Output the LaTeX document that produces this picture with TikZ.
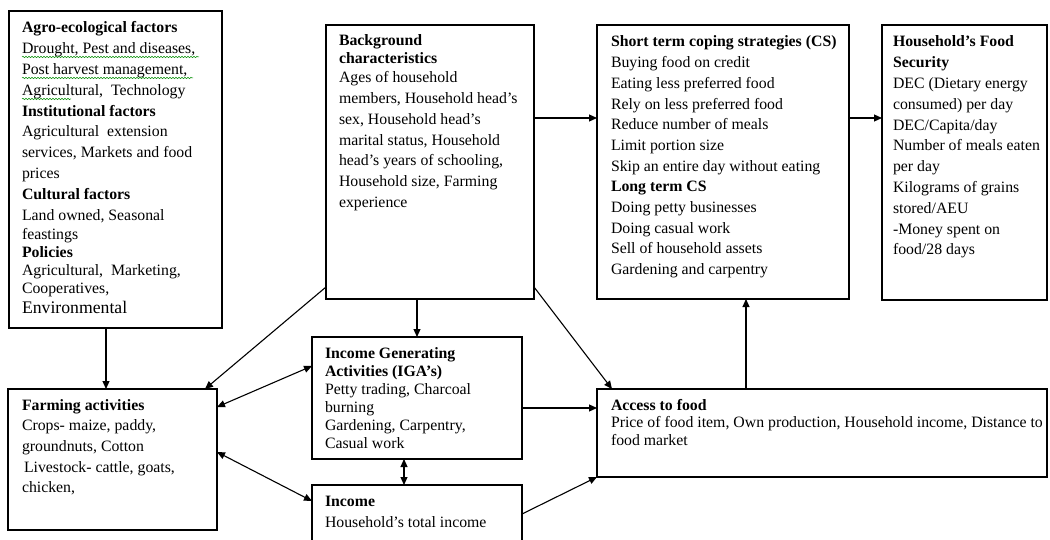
\documentclass[tikz,border=0pt]{standalone}
\usepackage{fontspec}
\setmainfont{Liberation Serif}
\usetikzlibrary{arrows.meta,decorations.pathmorphing}
\newcommand\txtblock[3]{\parbox[t]{#1}{\raggedright\fontsize{15.8}{#2}\selectfont #3}}
\tikzset{
  box/.style={draw=black, line width=1.7pt, anchor=north west, inner sep=0pt, outer sep=0pt},
  txt/.style={anchor=base west, inner sep=0pt, outer sep=0pt},
  arr/.style={line width=1.1pt, -{Triangle[length=8pt,width=7pt]}},
  darr/.style={line width=1.1pt, {Triangle[length=8pt,width=7pt]}-{Triangle[length=8pt,width=7pt]}},
  squig/.style={draw=green!55!black, line width=0.5pt, decorate, decoration={snake, amplitude=0.7pt, segment length=3pt}}
}
\begin{document}
\begin{tikzpicture}[x=1pt,y=-1pt]
\useasboundingbox (0,0) rectangle (1050,540);
% boxes
\node[box, minimum width=213pt, minimum height=317pt] (agro) at (9,11) {};
\node[box, minimum width=208pt, minimum height=274pt] (bg) at (326,25) {};
\node[box, minimum width=252pt, minimum height=274pt] (cs) at (597,25) {};
\node[box, minimum width=165pt, minimum height=275pt] (fs) at (882,25) {};
\node[box, minimum width=209pt, minimum height=141pt] (farm) at (8,389) {};
\node[box, minimum width=210pt, minimum height=122pt] (iga) at (312,337) {};
\node[box, minimum width=210pt, minimum height=60pt] (inc) at (312,485) {};
\node[box, minimum width=450pt, minimum height=88pt] (acc) at (597,389) {};
% texts
\node[txt] (agrot) at (22,33) {\txtblock{300pt}{20.8pt}{\textbf{Agro-ecological factors}\\
Drought, Pest and diseases,\\
Post harvest management,\\
Agricultural, \ Technology\\
\textbf{Institutional factors}\\
Agricultural \ extension\\
services, Markets and food\\
prices\\
\textbf{Cultural factors}\\
Land owned, Seasonal\\[-1.5pt]
feastings\\[-2.5pt]
\textbf{Policies}\\[-3.5pt]
Agricultural, \ Marketing,\\[-2.5pt]
Cooperatives,\\[-0.5pt]
{\fontsize{17.7}{20}\selectfont Environmental}}};
\draw[squig] (22,57) -- (199,57);
\draw[squig] (22,78) -- (193,78);
\draw[squig] (22,99) -- (71,99);
\node[txt] (bgt) at (339,46) {\txtblock{300pt}{20.7pt}{\textbf{Background}\\[-2.7pt]
\textbf{characteristics}\\[-1.7pt]
Ages of household\\
members, Household head’s\\
sex, Household head’s\\
marital status, Household\\
head’s years of schooling,\\
Household size, Farming\\
experience}};
\node[txt] (cst) at (611,47) {\txtblock{300pt}{20.7pt}{\textbf{Short term coping strategies (CS)}\\
Buying food on credit\\
Eating less preferred food\\
Rely on less preferred food\\
Reduce number of meals\\
Limit portion size\\
Skip an entire day without eating\\
\textbf{Long term CS}\\
Doing petty businesses\\
Doing casual work\\
Sell of household assets\\
Gardening and carpentry}};
\node[txt] (fst) at (893,47) {\txtblock{300pt}{20.8pt}{\textbf{Household’s Food}\\
\textbf{Security}\\
DEC (Dietary energy\\
consumed) per day\\
DEC/Capita/day\\
Number of meals eaten\\
per day\\
Kilograms of grains\\
stored/AEU\\
-Money spent on\\
food/28 days}};
\node[txt] (farmt) at (22,410) {\txtblock{300pt}{20.7pt}{\textbf{Farming activities}\\
Crops- maize, paddy,\\
groundnuts, Cotton\\
\hspace*{2pt}Livestock- cattle, goats,\\
chicken,}};
\node[txt] (igat) at (325,358) {\txtblock{300pt}{18pt}{\textbf{Income Generating}\\
\textbf{Activities (IGA’s)}\\
Petty trading, Charcoal\\
burning\\
Gardening, Carpentry,\\
Casual work}};
\node[txt] (inct) at (325,506) {\txtblock{300pt}{21pt}{\textbf{Income}\\
Household’s total income}};
\node[txt] (acct) at (611,410) {\txtblock{440pt}{17.5pt}{\textbf{Access to food}\\
Price of food item, Own production, Household income, Distance to\\
food market}};
% connectors
\draw[arr] ([xshift=-9.5pt]agro.south) -- ([xshift=-9.5pt]agro.south |- farm.north);
\draw[arr] ([yshift=12pt]bg.south west) -- ([xshift=-12pt]farm.north east);
\draw[arr] (iga.north |- bg.south) -- (iga.north);
\draw[arr] ([yshift=12pt]bg.south east) -- ([xshift=15pt]acc.north west);
\draw[arr] ([yshift=-93pt]bg.north east) -- ([yshift=-93pt]bg.north east -| cs.west);
\draw[arr] ([yshift=-93pt]cs.north east) -- ([yshift=-93pt]cs.north east -| fs.west);
\draw[arr] ([xshift=149pt]acc.north west) -- ([xshift=149pt]acc.north west |- cs.south);
\draw[arr] ([yshift=-10pt]iga.east) -- ([yshift=-10pt]iga.east -| acc.west);
\draw[arr] ([yshift=-29pt]inc.north east) -- (acc.south west);
\draw[darr] ([yshift=-29pt]iga.north west) -- ([yshift=-18pt]farm.north east);
\draw[darr] ([yshift=-63pt]farm.north east) -- ([yshift=-16pt]inc.north west);
\draw[darr] ([xshift=-13pt]iga.south) -- ([xshift=-13pt]iga.south |- inc.north);
\end{tikzpicture}
\end{document}
